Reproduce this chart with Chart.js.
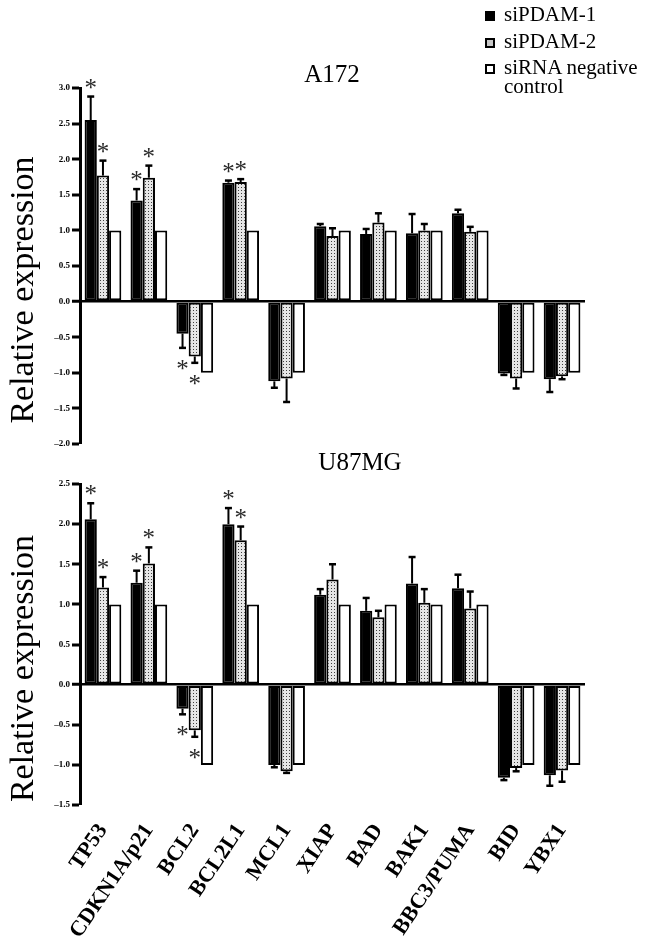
<!DOCTYPE html>
<html><head><meta charset="utf-8">
<script src="https://cdn.jsdelivr.net/npm/chart.js@4.4.0/dist/chart.umd.min.js"></script>
<style>
html,body{margin:0;padding:0;background:#fff;width:671px;height:948px;overflow:hidden;}
body{position:relative;font-family:"Liberation Serif","Times New Roman",serif;color:#000;}
#c1{position:absolute;left:0;top:0;}
#c2{position:absolute;left:0;top:440px;}
.lt{position:absolute;left:504px;font-size:21px;line-height:19px;white-space:nowrap;}
.sw{position:absolute;left:485px;width:10px;height:10px;box-sizing:border-box;}
</style></head><body>
<canvas id="c1" width="671" height="460"></canvas>
<canvas id="c2" width="671" height="508"></canvas>
<div class="sw" style="top:11px;background:#000;"></div>
<div class="lt" style="top:5px;">siPDAM-1</div>
<div class="sw" style="top:38px;border:2px solid #000;background:#c8c8c8;"></div>
<div class="lt" style="top:32px;">siPDAM-2</div>
<div class="sw" style="top:64px;border:2px solid #000;background:#fff;"></div>
<div class="lt" style="top:58px;">siRNA negative<br>control</div>
<script>
const categories = ['TP53','CDKN1A/p21','BCL2','BCL2L1','MCL1','XIAP','BAD','BAK1','BBC3/PUMA','BID','YBX1'];
const seriesNames = ['siPDAM-1','siPDAM-2','siRNA negative control'];

// A172
const a172_si1    = [2.55, 1.42, -0.45, 1.67, -1.12, 1.06, 0.95, 0.96, 1.24, -1.01, -1.09];
const a172_si1Err = [0.33, 0.16, 0.20, 0.03, 0.09, 0.03, 0.07, 0.27, 0.05, 0.02, 0.18];
const a172_si2    = [1.77, 1.74, -0.77, 1.68, -1.08, 0.92, 1.11, 1.00, 0.98, -1.08, -1.05];
const a172_si2Err = [0.21, 0.17, 0.09, 0.04, 0.33, 0.11, 0.13, 0.09, 0.07, 0.14, 0.04];
const a172_ctrl   = [1, 1, -1, 1, -1, 1, 1, 1, 1, -1, -1];
const a172_si1Sig = [1, 1, 1, 1, 0, 0, 0, 0, 0, 0, 0];
const a172_si2Sig = [1, 1, 1, 1, 0, 0, 0, 0, 0, 0, 0];
const a172_yTicks = {min: -2.0, max: 3.0, step: 0.5};

// U87MG
const u87_si1    = [2.06, 1.27, -0.30, 2.00, -1.00, 1.12, 0.92, 1.26, 1.20, -1.16, -1.13];
const u87_si1Err = [0.20, 0.15, 0.07, 0.20, 0.03, 0.07, 0.16, 0.33, 0.17, 0.03, 0.13];
const u87_si2    = [1.21, 1.51, -0.57, 1.80, -1.08, 1.31, 0.84, 1.02, 0.95, -1.04, -1.07];
const u87_si2Err = [0.13, 0.20, 0.08, 0.17, 0.02, 0.19, 0.08, 0.17, 0.21, 0.04, 0.14];
const u87_ctrl   = [1, 1, -1, 1, -1, 1, 1, 1, 1, -1, -1];
const u87_si1Sig = [1, 1, 1, 1, 0, 0, 0, 0, 0, 0, 0];
const u87_si2Sig = [1, 1, 1, 1, 0, 0, 0, 0, 0, 0, 0];
const u87_yTicks = {min: -1.5, max: 2.5, step: 0.5};

const yTitle = 'Relative expression';
const FONT = '"Liberation Serif","Times New Roman",serif';

function dotPattern(ctx){
  const c = document.createElement('canvas'); c.width = 3; c.height = 3;
  const g = c.getContext('2d');
  g.fillStyle = '#e6e6e6'; g.fillRect(0,0,3,3);
  g.fillStyle = '#404040'; g.fillRect(1,1,1,1);
  return ctx.createPattern(c, 'repeat');
}

const extras = {
  id: 'extras',
  afterDatasetsDraw(chart, args, opts){
    const ctx = chart.ctx, y = chart.scales.y;
    ctx.save();
    opts.errors.forEach((errs, di) => {
      if (!errs) return;
      const meta = chart.getDatasetMeta(di);
      const vals = chart.data.datasets[di].data;
      meta.data.forEach((bar, i) => {
        const v = vals[i], e = errs[i];
        const end = v >= 0 ? v + e : v - e;
        const y0 = y.getPixelForValue(v), y1 = y.getPixelForValue(end);
        ctx.strokeStyle = '#000';
        ctx.lineWidth = 2;
        ctx.beginPath(); ctx.moveTo(bar.x, y0); ctx.lineTo(bar.x, y1); ctx.stroke();
        ctx.lineWidth = 2.5;
        ctx.beginPath(); ctx.moveTo(bar.x - 3.5, y1); ctx.lineTo(bar.x + 3.5, y1); ctx.stroke();
        if (opts.sig[di] && opts.sig[di][i]) {
          ctx.fillStyle = '#2a2a2a';
          ctx.font = '25px ' + FONT;
          ctx.textAlign = 'center';
          ctx.textBaseline = 'alphabetic';
          ctx.fillText('*', bar.x, v >= 0 ? y1 - 1 : y1 + 29);
        }
      });
    });
    ctx.restore();
  },
  afterDraw(chart, args, opts){
    const ctx = chart.ctx, a = chart.chartArea;
    ctx.save();
    ctx.fillStyle = '#000';
    ctx.font = '25px ' + FONT;
    ctx.textAlign = 'center';
    ctx.textBaseline = 'middle';
    ctx.fillText(opts.title, opts.titleX, opts.titleY);
    ctx.translate(24, (a.top + a.bottom) / 2 + 24);
    ctx.rotate(-Math.PI / 2);
    ctx.font = '34px ' + FONT;
    ctx.fillText(opts.yTitle, 0, 0);
    ctx.restore();
  }
};

function build(canvasId, d1, d2, d3, e1, e2, s1, s2, yt, showX, padding, xHeight, title, titleX, titleY){
  const el = document.getElementById(canvasId);
  const ctx = el.getContext('2d');
  return new Chart(ctx, {
    type: 'bar',
    data: {
      labels: categories,
      datasets: [
        {label: seriesNames[0], data: d1, backgroundColor: '#000'},
        {label: seriesNames[1], data: d2, backgroundColor: dotPattern(ctx)},
        {label: seriesNames[2], data: d3, backgroundColor: '#fff'}
      ].map(ds => Object.assign(ds, {borderColor: '#000', borderWidth: 2, borderSkipped: false, categoryPercentage: 0.8, barPercentage: 1.0}))
    },
    options: {
      responsive: false,
      animation: false,
      events: [],
      layout: {padding: padding},
      plugins: {
        legend: {display: false},
        tooltip: {enabled: false},
        title: {display: false},
        extras: {errors: [e1, e2, null], sig: [s1, s2, null], title: title, titleX: titleX, titleY: titleY, yTitle: yTitle}
      },
      scales: {
        x: {
          type: 'category',
          display: showX,
          grid: {display: false},
          border: {display: false},
          ticks: {
            autoSkip: false, minRotation: 56, maxRotation: 56, padding: 6, labelOffset: 0,
            color: '#000', font: {family: FONT, size: 22, weight: 'bold'}
          },
          afterFit: s => { if (xHeight) s.height = xHeight; }
        },
        y: {
          min: yt.min, max: yt.max,
          ticks: {
            stepSize: yt.step, color: '#000', padding: 2,
            font: {family: FONT, size: 9, weight: 'bold'},
            callback: v => Number(v).toFixed(1).replace('-', '\u2013')
          },
          grid: {
            drawOnChartArea: true,
            color: c => (c.tick && Math.abs(c.tick.value) < 1e-9) ? '#000' : 'rgba(0,0,0,0)',
            lineWidth: c => (c.tick && Math.abs(c.tick.value) < 1e-9) ? 2.5 : 0,
            tickColor: '#000', tickWidth: 3, tickLength: 8
          },
          border: {display: true, color: '#000', width: 3},
          title: {display: false},
          afterFit: s => { s.width = 80; }
        }
      }
    },
    plugins: [extras]
  });
}

build('c1', a172_si1, a172_si2, a172_ctrl, a172_si1Err, a172_si2Err, a172_si1Sig, a172_si2Sig,
      a172_yTicks, false, {top: 88, bottom: 16, left: 0, right: 86}, 0, 'A172', 332, 75);
build('c2', u87_si1, u87_si2, u87_ctrl, u87_si1Err, u87_si2Err, u87_si1Sig, u87_si2Sig,
      u87_yTicks, true, {top: 44, bottom: 0, left: 0, right: 86}, 143, 'U87MG', 360, 23);
</script>
</body></html>
